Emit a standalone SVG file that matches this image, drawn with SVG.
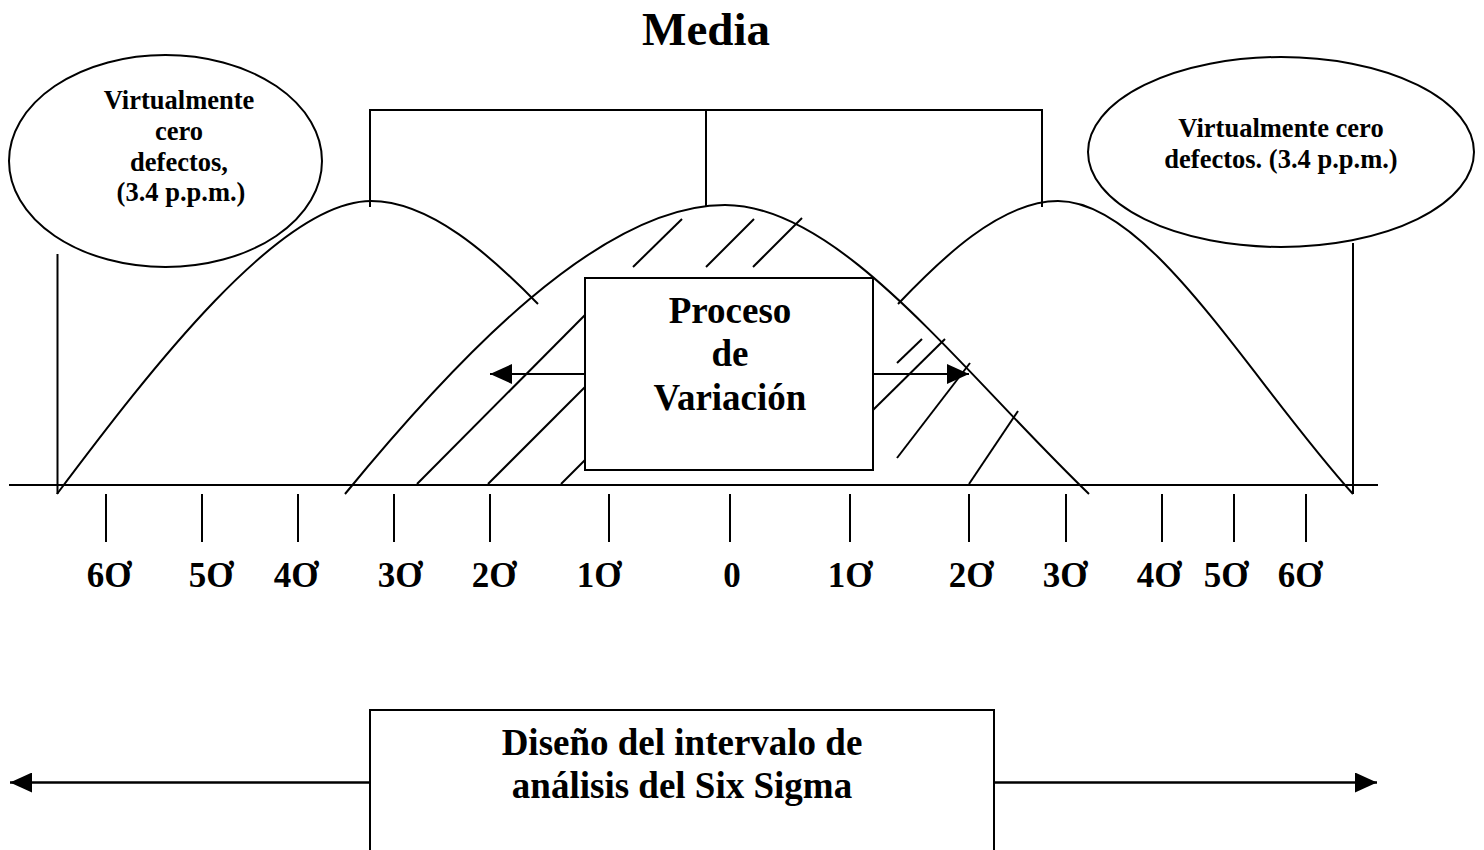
<svg xmlns="http://www.w3.org/2000/svg" width="1484" height="850" viewBox="0 0 1484 850">
  <style>
    .ln { fill: none; stroke: #000; stroke-width: 2; }
    .tx { font-family: "Liberation Serif", "Times New Roman", serif; font-weight: bold; fill: #000; text-anchor: middle; }
    .note { font-size: 26.5px; }
    .big { font-size: 37px; }
    .lab { font-size: 35px; }
  </style>
  <defs>
    <marker id="head" viewBox="0 0 22 20" refX="22" refY="10" markerWidth="22" markerHeight="20" markerUnits="userSpaceOnUse" orient="auto">
      <path d="M0,0 L22,10 L0,20 Z" fill="#000"/>
    </marker>
  </defs>
  <rect width="1484" height="850" fill="#fff"/>

  <!-- title -->
  <g id="title">
    <text class="tx" x="706" y="45" font-size="47">Media</text>
  </g>

  <!-- bracket joining the three means -->
  <g id="bracket" class="ln">
    <path d="M370,207 V110 H1042 V207"/>
    <path d="M706,110 V207"/>
  </g>

  <!-- left note -->
  <g id="note-left">
    <ellipse class="ln" cx="165.5" cy="161" rx="156.5" ry="106"/>
    <text class="tx note" x="179" y="109">Virtualmente</text>
    <text class="tx note" x="179" y="140">cero</text>
    <text class="tx note" x="179" y="171">defectos,</text>
    <text class="tx note" x="181" y="201">(3.4 p.p.m.)</text>
  </g>

  <!-- right note -->
  <g id="note-right">
    <ellipse class="ln" cx="1281" cy="152" rx="193" ry="95"/>
    <text class="tx note" x="1281" y="137">Virtualmente cero</text>
    <text class="tx note" x="1281" y="168">defectos. (3.4 p.p.m.)</text>
  </g>

  <!-- limit lines -->
  <g id="limits" class="ln">
    <path d="M57.5,254 V494"/>
    <path d="M1353,243 V494"/>
  </g>

  <!-- the three bell curves -->
  <g id="curves" class="ln">
    <path d="M57,494 C150,370 280,201 371,201 C430,201 490,255 538,304"/>
    <path d="M345,494 C455,360 600,205 725,205 C840,205 960,370 1089,494"/>
    <path d="M898,304 C940,260 1000,201 1058,201 C1150,201 1250,380 1353,494"/>
  </g>

  <!-- hatching under the centre curve -->
  <g id="hatch" class="ln">
    <path d="M633,267 L682,219"/>
    <path d="M706,267 L754,219"/>
    <path d="M753,267 L802,218"/>
    <path d="M417,484 L585,315"/>
    <path d="M488,484 L585,387"/>
    <path d="M561,484 L585,460"/>
    <path d="M897,363 L922,339"/>
    <path d="M873,410 L945,339"/>
    <path d="M897,458 L970,363"/>
    <path d="M969,484 L1018,411"/>
  </g>

  <!-- axis and ticks -->
  <g id="axis" class="ln">
    <path d="M9,485 H1378"/>
    <path d="M106,494 V542 M202,494 V542 M298,494 V542 M394,494 V542 M490,494 V542 M609,494 V542 M730,494 V542 M850,494 V542 M969,494 V542 M1066,494 V542 M1162,494 V542 M1234,494 V542 M1306,494 V542"/>
  </g>

  <g id="labels">
    <text class="tx lab" x="109" y="587">6Ơ</text>
    <text class="tx lab" x="211" y="587">5Ơ</text>
    <text class="tx lab" x="296" y="587">4Ơ</text>
    <text class="tx lab" x="400" y="587">3Ơ</text>
    <text class="tx lab" x="494" y="587">2Ơ</text>
    <text class="tx lab" x="599" y="587">1Ơ</text>
    <text class="tx lab" x="732" y="587">0</text>
    <text class="tx lab" x="850" y="587">1Ơ</text>
    <text class="tx lab" x="971" y="587">2Ơ</text>
    <text class="tx lab" x="1065" y="587">3Ơ</text>
    <text class="tx lab" x="1159" y="587">4Ơ</text>
    <text class="tx lab" x="1226" y="587">5Ơ</text>
    <text class="tx lab" x="1300" y="587">6Ơ</text>
  </g>

  <!-- process variation box -->
  <g id="process">
    <rect class="ln" x="585" y="278" width="288" height="192" fill="#fff"/>
    <text class="tx big" x="730" y="323">Proceso</text>
    <text class="tx big" x="730" y="366">de</text>
    <text class="tx big" x="730" y="410">Variación</text>
  </g>

  <!-- design interval box -->
  <g id="interval">
    <path class="ln" d="M370,852 V710 H994 V852"/>
    <text class="tx big" x="682" y="755">Diseño del intervalo de</text>
    <text class="tx big" x="682" y="798">análisis del Six Sigma</text>
  </g>

  <!-- arrows -->
  <g id="connectors" class="ln">
    <path d="M585,374 H490" marker-end="url(#head)"/>
    <path d="M873,374 H969" marker-end="url(#head)"/>
    <path d="M370,782.5 H10" marker-end="url(#head)" stroke-width="2.5"/>
    <path d="M994,782.5 H1377" marker-end="url(#head)" stroke-width="2.5"/>
  </g>
</svg>
